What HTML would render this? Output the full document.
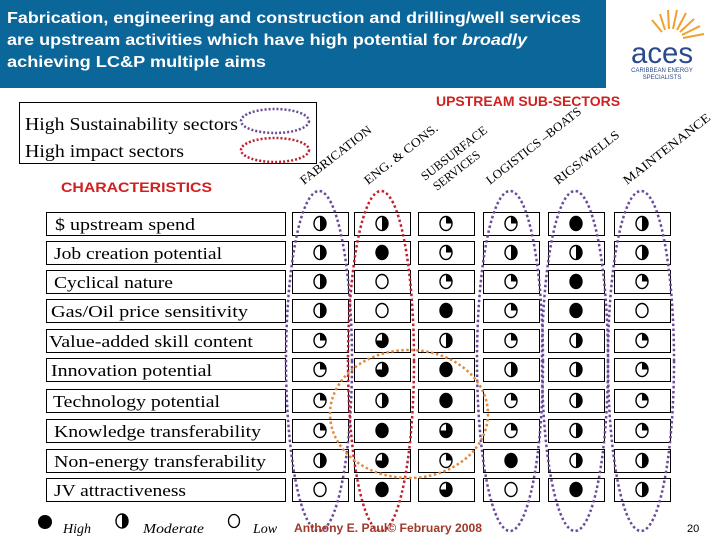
<!DOCTYPE html>
<html><head><meta charset="utf-8"><style>
html,body{margin:0;padding:0;background:#fff;}
svg{display:block;}
</style></head><body>
<svg id="s" width="720" height="540" viewBox="0 0 720 540" xmlns="http://www.w3.org/2000/svg">
<rect x="0" y="0" width="606" height="88" fill="#0b6699"/>
<g font-family="Liberation Sans, sans-serif" font-weight="bold" font-size="16" fill="#fff">
<text x="7" y="23" textLength="574" lengthAdjust="spacingAndGlyphs">Fabrication, engineering and construction and drilling/well services</text>
<text x="7" y="45" textLength="520" lengthAdjust="spacingAndGlyphs">are upstream activities which have high potential for <tspan font-style="italic">broadly</tspan></text>
<text x="7" y="67" textLength="259" lengthAdjust="spacingAndGlyphs">achieving LC&amp;P multiple  aims</text>
</g>
<g>
<g stroke="#f0a030" stroke-width="2" fill="none">
<path d="M665,30 L660,14 M669,29 L668,10 M673,29 L677,10 M677,30 L686,13 M680,32 L694,19 M682,35 L700,26 M683,38 L704,34 M662,32 L652,20"/>
</g>
<text x="662" y="63" font-family="Liberation Sans, sans-serif" font-size="30" fill="#2b4a8c" text-anchor="middle" textLength="62" lengthAdjust="spacingAndGlyphs">aces</text>
<text x="662" y="72" font-family="Liberation Sans, sans-serif" font-size="6" fill="#2b4a8c" text-anchor="middle">CARIBBEAN ENERGY</text>
<text x="662" y="79" font-family="Liberation Sans, sans-serif" font-size="6" fill="#2b4a8c" text-anchor="middle">SPECIALISTS</text>
</g>
<text x="528" y="106" font-family="Liberation Sans, sans-serif" font-weight="bold" font-size="14" fill="#d02020" text-anchor="middle">UPSTREAM SUB-SECTORS</text>
<g>
<rect x="19.5" y="102.5" width="297" height="61" fill="#fff" stroke="#000"/>
<text x="25" y="130" font-family="Liberation Serif, serif" font-size="18" textLength="213" lengthAdjust="spacingAndGlyphs">High Sustainability sectors</text>
<text x="25" y="157" font-family="Liberation Serif, serif" font-size="18" textLength="159" lengthAdjust="spacingAndGlyphs">High impact sectors</text>
<ellipse cx="275" cy="121" rx="34" ry="12" fill="none" stroke="#6a4a9a" stroke-width="2.5" stroke-dasharray="2,2"/>
<ellipse cx="275" cy="150" rx="34" ry="12" fill="none" stroke="#c02030" stroke-width="2.5" stroke-dasharray="2,2"/>
</g>
<text x="61" y="192" font-family="Liberation Sans, sans-serif" font-weight="bold" font-size="14" fill="#d02020" textLength="151" lengthAdjust="spacingAndGlyphs">CHARACTERISTICS</text>
<g id="grid"></g>
<g id="ovals"></g>
<g>
<circle cx="45" cy="522" r="7" fill="#000"/>
<text x="63" y="533" font-family="Liberation Serif, serif" font-style="italic" font-size="14">High</text>
<g id="lgmod"></g>
<text x="143" y="533" font-family="Liberation Serif, serif" font-style="italic" font-size="14" textLength="61" lengthAdjust="spacingAndGlyphs">Moderate</text>
<ellipse cx="234" cy="521" rx="5.5" ry="6.5" fill="#fff" stroke="#000" stroke-width="1.3"/>
<text x="253" y="533" font-family="Liberation Serif, serif" font-style="italic" font-size="14">Low</text>
</g>
<text x="294" y="532" font-family="Liberation Sans, sans-serif" font-weight="bold" font-size="12" fill="#a03a2a" textLength="188" lengthAdjust="spacingAndGlyphs">Anthony E. Paul© February 2008</text>
<text x="687" y="532" font-family="Liberation Sans, sans-serif" font-size="11" fill="#000">20</text>
</svg>
<script>
const sectors=["FABRICATION","ENG. & CONS.","SUBSURFACE|SERVICES","LOGISTICS –BOATS","RIGS/WELLS","MAINTENANCE"];
const characteristics=["$ upstream spend","Job creation potential","Cyclical nature","Gas/Oil price sensitivity","Value-added skill content","Innovation potential","Technology potential","Knowledge transferability","Non-energy transferability","JV attractiveness"];
// ratings: 0 low, 0.25, 0.5 moderate, 0.75, 1 high
const ratings=[
[0.5,0.5,0.25,0.25,1,0.5],
[0.5,1,0.25,0.5,0.5,0.5],
[0.5,0,0.25,0.25,1,0.25],
[0.5,0,1,0.25,1,0],
[0.25,0.75,0.5,0.25,0.5,0.25],
[0.25,0.75,1,0.5,0.5,0.25],
[0.25,0.5,1,0.25,0.5,0.25],
[0.25,1,0.75,0.25,0.5,0.25],
[0.5,0.75,0.25,1,0.5,0.5],
[0,1,0.75,0,1,0.5]];
const sustainable=[true,false,false,true,true,true];
const impact=[false,true,false,false,false,false];
const NS="http://www.w3.org/2000/svg";
const colX=[292,354,418,483,548,614], colW=56;
const rowY=[212,241,270,299,329,358,389,419,449,478], rowH=23;
const labelW=[140,168,119,197,204,161,167,207,212,132];
const labelX=[55,54,54,51,49,51,53,54,54,54];
const headDx=[-16,-14,-21,-21,-18,-15];
const headW=[87,90,80,117,79,107];
function colCenter(i){return colX[i]+colW/2;}
function rowCenter(j){return rowY[j]+rowH/2;}
function mk(tag,attrs,parent){const e=document.createElementNS(NS,tag);for(const k in attrs)e.setAttribute(k,attrs[k]);parent.appendChild(e);return e;}
function glyph(parent,cx,cy,v){
  const rx=6,ry=7;
  mk('ellipse',{cx:cx,cy:cy,rx:rx,ry:ry,fill:'#fff',stroke:'#000','stroke-width':1.4},parent);
  if(v>=1){mk('ellipse',{cx:cx,cy:cy,rx:rx,ry:ry,fill:'#000'},parent);return;}
  if(v<=0)return;
  const a0=-Math.PI/2,a1=a0+v*2*Math.PI;
  const x0=cx+rx*Math.cos(a0),y0=cy+ry*Math.sin(a0),x1=cx+rx*Math.cos(a1),y1=cy+ry*Math.sin(a1);
  mk('path',{d:`M${cx},${cy} L${x0},${y0} A${rx},${ry} 0 ${v>0.5?1:0} 1 ${x1},${y1} Z`,fill:'#000'},parent);
}
const g=document.getElementById('grid');
sectors.forEach((s,i)=>{
  const parts=s.split('|');
  const t=mk('text',{x:0,y:0,'font-family':'Liberation Serif, serif','font-size':12.5,textLength:headW[i],lengthAdjust:'spacingAndGlyphs',transform:`translate(${colCenter(i)+headDx[i]},${parts[1]?181:185}) rotate(-38)`},g);
  
  
  t.textContent=parts[0];
  if(parts[1]){const t2=mk('text',{x:0,y:0,'font-family':'Liberation Serif, serif','font-size':12.5,textLength:56,lengthAdjust:'spacingAndGlyphs',transform:`translate(${colCenter(i)+headDx[i]+12},${191}) rotate(-38)`},g);t2.textContent=parts[1];}
});
characteristics.forEach((c,j)=>{
  const r=mk('rect',{x:46.5,y:rowY[j]+0.5,width:239,height:rowH,fill:'#fff',stroke:'#000'},g);
  
  
  const t=mk('text',{x:labelX[j],y:rowY[j]+18,'font-family':'Liberation Serif, serif','font-size':17,textLength:labelW[j],lengthAdjust:'spacingAndGlyphs'},g);
  
  
  t.textContent=c;
  ratings[j].forEach((v,i)=>{
    const cell=mk('g',{},g);
    
    
    mk('rect',{x:colX[i]+0.5,y:rowY[j]+0.5,width:colW,height:rowH,fill:'#fff',stroke:'#000'},cell);
    glyph(cell,colCenter(i),rowCenter(j),v);
  });
});
glyph(document.getElementById('lgmod'),122,521,0.5);
const ov=document.getElementById('ovals');
sectors.forEach((s,i)=>{
  if(sustainable[i]||impact[i]){
    const e=mk('ellipse',{cx:colCenter(i)-1,cy:361,rx:33,ry:170,fill:'none',stroke:impact[i]?'#c02030':'#6a4a9a','stroke-width':2.5,'stroke-dasharray':'2.5,2.5'},ov);
    
    
  }
});
const oc=mk('ellipse',{cx:409,cy:414,rx:79,ry:64,fill:'none',stroke:'#e08a40','stroke-width':2.5,'stroke-dasharray':'2.5,2.5'},ov);


</script>
</body></html>
